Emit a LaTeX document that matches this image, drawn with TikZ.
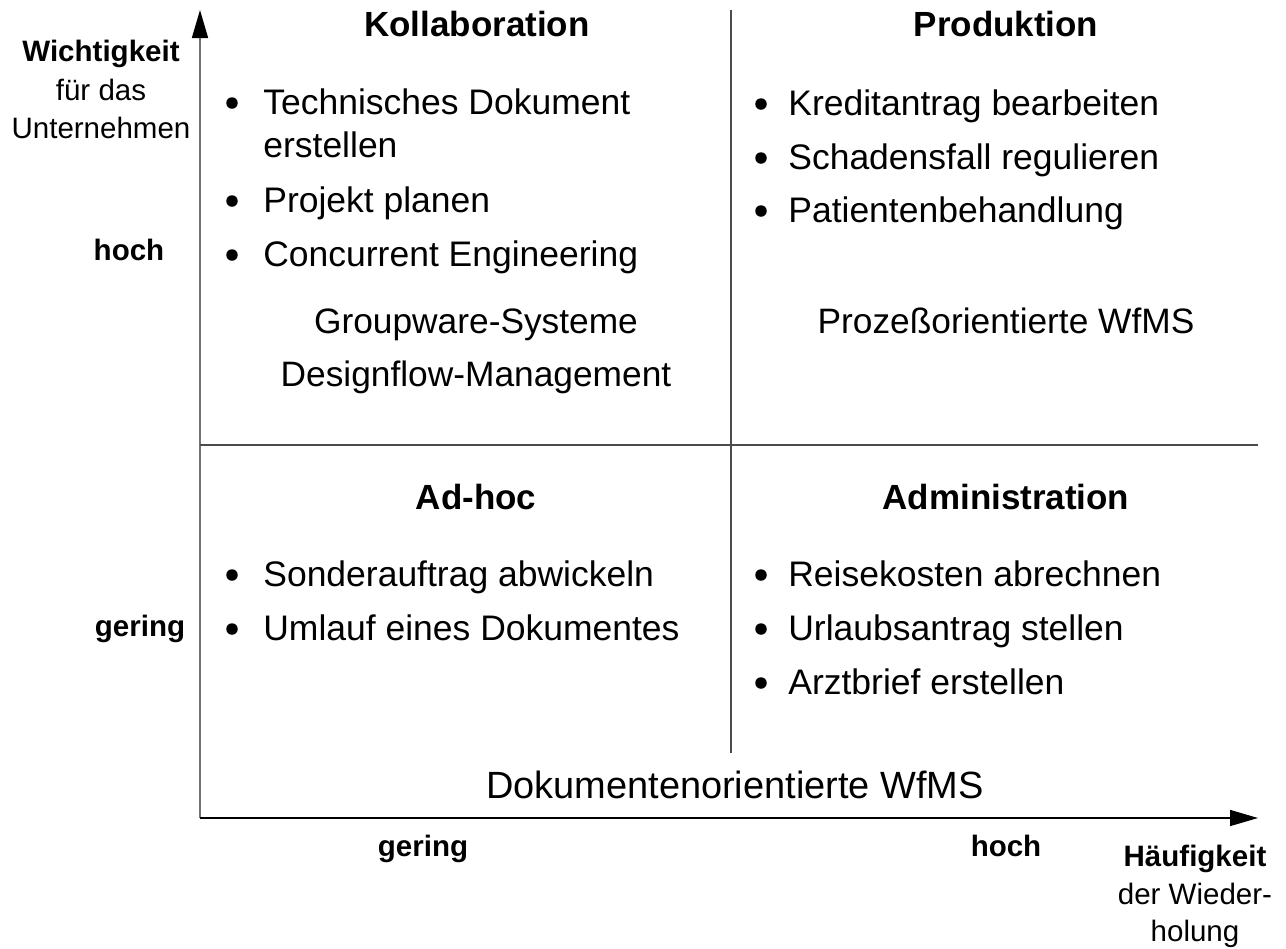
\documentclass[tikz,border=0pt]{standalone}
\usepackage{fontspec}
\setmainfont{Liberation Sans}
\usepackage{tikz}
\usetikzlibrary{arrows.meta}
\definecolor{axisgray}{rgb}{0.45, 0.45, 0.45}
\definecolor{divgray}{rgb}{0.3, 0.3, 0.3}

\begin{document}
\begin{tikzpicture}[x=0.02cm, y=-0.02cm, >={Triangle[length=0.56cm, width=0.32cm, color=black]}]
	% ------------------------------------------------------------------
	% STYLE DEFINITIONS
	% ------------------------------------------------------------------
	\tikzset{
		title/.style     = {anchor=base, inner sep=0pt, font=\fontsize{19.9pt}{24pt}\selectfont\bfseries},
		item/.style      = {anchor=base west, inner sep=0pt, font=\fontsize{20.2pt}{24pt}\selectfont},
		system/.style    = {anchor=base, inner sep=0pt, font=\fontsize{20.1pt}{24pt}\selectfont},
		bigsystem/.style = {anchor=base, inner sep=0pt, font=\fontsize{21.6pt}{26pt}\selectfont},
		dot/.style       = {circle, fill=black, inner sep=0pt, minimum size=0.23cm},
		axislabel/.style = {anchor=base, inner sep=0pt, font=\fontsize{16.8pt}{20pt}\selectfont},
		axisbold/.style  = {axislabel, font=\fontsize{16.8pt}{20pt}\selectfont\bfseries},
		divider/.style   = {line width=0.6pt, divgray}
	}
	\useasboundingbox (0,0) rectangle (1286,948);
	
	% ------------------------------------------------------------------
	% AXES & DIVIDERS
	% ------------------------------------------------------------------
	\coordinate (O) at (200,818);
	\coordinate (ytip) at (200,10);
	\coordinate (xtip) at (1258,818);
	\draw[->, line width=0.9pt, axisgray] (O) -- (ytip);   % y-axis
	\draw[->, line width=0.9pt, black] (O) -- (xtip);      % x-axis
	
	\coordinate (hl) at (200,445);
	\coordinate (hr) at (1258,445);
	\coordinate (vt) at (731,10);
	\coordinate (vb) at (731,753);
	\draw[divider] (hl) -- (hr);
	\draw[divider] (vt) -- (vb);
	
	% --- Axis labels ---
	\node[axisbold] (wicht) at (101,61) {Wichtigkeit};
	\node[axislabel] (fuer) at (101,100) {für das};
	\node[axislabel] (unter) at (101,138) {Unternehmen};
	\node[axisbold] (yhoch) at (129,260) {hoch};
	\node[axisbold] (ygering) at (140,636) {gering};
	
	\node[axisbold] (xgering) at (423,856) {gering};
	\node[axisbold] (xhoch) at (1006,856) {hoch};
	\node[axisbold] (haeuf) at (1195,866) {Häufigkeit};
	\node[axislabel] (wieder) at (1195,904) {der Wieder-};
	\node[axislabel] (holung) at (1195,941) {holung};
	
	% ------------------------------------------------------------------
	% QUADRANTS
	% ------------------------------------------------------------------
	% Kollaboration
	\node[title] (koll) at (477,36) {Kollaboration};
	\foreach \yy/\t [count=\i] in {114/Technisches Dokument, 212/Projekt planen, 266/Concurrent Engineering} {
		\node[dot] (kd\i) at (232,\yy-11) {};
		\node[item] (kt\i) at (263,\yy) {\t};
	}
	\node[item] (kt1b) at (263,157) {erstellen};
	\node[system] (group) at (476,333) {Groupware-Systeme};
	\node[system] (design) at (476,386) {Designflow-Management};
	
	% Produktion
	\node[title] (prod) at (1006,36) {Produktion};
	\foreach \yy/\t [count=\i] in {115/Kreditantrag bearbeiten, 169/Schadensfall regulieren, 222/Patientenbehandlung} {
		\node[dot] (pd\i) at (761,\yy-11) {};
		\node[item] (pt\i) at (788,\yy) {\t};
	}
	\node[system] (prozess) at (1006,333) {Prozeßorientierte WfMS};
	
	% Ad-hoc
	\node[title] (adhoc) at (476,509) {Ad-hoc};
	\foreach \yy/\t [count=\i] in {586/Sonderauftrag abwickeln, 640/Umlauf eines Dokumentes} {
		\node[dot] (ad\i) at (232,\yy-11) {};
		\node[item] (at\i) at (263,\yy) {\t};
	}
	
	% Administration
	\node[title] (admin) at (1006,509) {Administration};
	\foreach \yy/\t [count=\i] in {586/Reisekosten abrechnen, 640/Urlaubsantrag stellen, 694/Arztbrief erstellen} {
		\node[dot] (md\i) at (761,\yy-11) {};
		\node[item] (mt\i) at (788,\yy) {\t};
	}
	
	\node[bigsystem] (dokument) at (735,798) {Dokumentenorientierte WfMS};
	
\end{tikzpicture}
\end{document}
